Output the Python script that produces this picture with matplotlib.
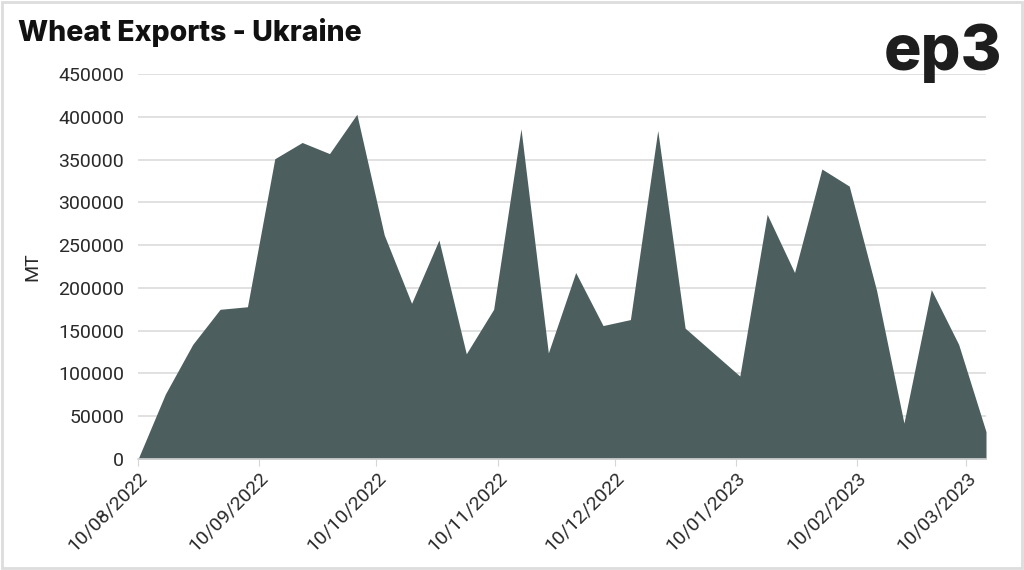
import matplotlib
matplotlib.use('Agg')
import matplotlib.pyplot as plt
import matplotlib.dates as mdates
import pandas as pd

# weekly Ukrainian wheat exports (MT)
dates = pd.date_range('2022-08-10', periods=32, freq='7D')
exports = [0, 76000, 134000, 175000, 178000, 351000, 370000, 357000,
           403000, 262000, 182000, 256000, 123000, 175000, 386000, 124000,
           218000, 156000, 163000, 384000, 153000, 125000, 97000, 286000,
           218000, 339000, 319000, 197000, 42000, 198000, 134000, 32000]

title = 'Wheat Exports - Ukraine'
ylabel = 'MT'
fill_color = '#4C5E5E'

plt.rcParams['font.family'] = ['Roboto', 'DejaVu Sans']

fig = plt.figure(figsize=(10.24, 5.7), dpi=100)
ax = fig.add_axes([0.1348, 0.1947, 0.8281, 0.6754])

ax.fill_between(dates, exports, 0, color=fill_color, linewidth=0)
ax.set_xlim(dates[0], dates[-1])
ax.set_ylim(0, 450000)
ax.set_yticks(range(0, 450001, 50000))

ax.grid(True, axis='y', color='#DCDCDC', linewidth=1.2)
ax.set_axisbelow(True)
for side in ['top', 'right', 'left']:
    ax.spines[side].set_visible(False)
ax.spines['bottom'].set_color('#D6D6D6')
ax.spines['bottom'].set_linewidth(1.2)

ax.xaxis.set_major_locator(mdates.DayLocator(bymonthday=10))
ax.xaxis.set_major_formatter(mdates.DateFormatter('%d/%m/%Y'))
ax.tick_params(axis='x', length=5, color='#D6D6D6', labelsize=14,
               labelcolor='#2A2A2A', pad=2)
ax.tick_params(axis='y', length=0, labelsize=14, labelcolor='#2A2A2A', pad=10)
plt.setp(ax.get_xticklabels(), rotation=45, ha='right', rotation_mode='anchor')

ax.set_ylabel(ylabel, fontsize=14, color='#2A2A2A', labelpad=12)

fig.text(0.018, 0.943, title, fontsize=20.5, fontweight='heavy',
         family=['Inter', 'DejaVu Sans'], color='#111111', va='center')
fig.text(0.979, 0.877, 'ep3', fontsize=45, fontweight='heavy',
         family=['Inter', 'DejaVu Sans'], color='#1E1E1E', ha='right', va='baseline')

# light frame round the whole picture
fig.patches.append(plt.Rectangle((0.002, 0.004), 0.996, 0.992, transform=fig.transFigure,
                                 fill=False, edgecolor='#DDDDDD', linewidth=2))

fig.savefig('out.png', dpi=100)
